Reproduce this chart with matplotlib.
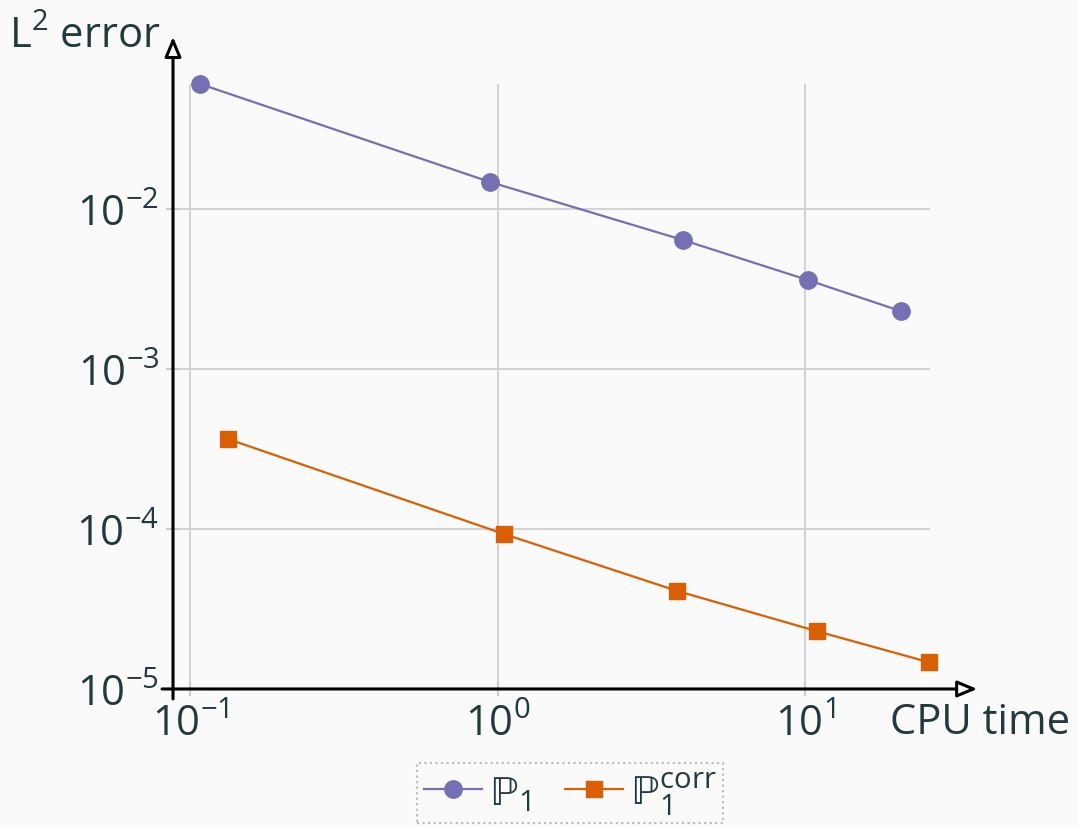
import matplotlib
matplotlib.use("Agg")
import matplotlib.pyplot as plt

# data (log-log convergence plot)
p1_time = [0.108, 0.945, 4.01, 10.2, 20.5]
p1_err = [0.0604, 0.01475, 0.0064, 0.0036, 0.0023]
pc_time = [0.133, 1.05, 3.84, 10.9, 25.3]
pc_err = [3.65e-4, 9.3e-5, 4.1e-5, 2.3e-5, 1.47e-5]
x_ticks = [0.1, 1, 10]
x_labels = ["$10^{-1}$", "$10^{0}$", "$10^{1}$"]
y_ticks = [1e-5, 1e-4, 1e-3, 1e-2]
y_labels = ["$10^{-5}$", "$10^{-4}$", "$10^{-3}$", "$10^{-2}$"]

TXT = "#223a3d"
BG = "#fafafa"
FS = 30

plt.rcParams["font.family"] = ["Open Sans", "DejaVu Sans"]
plt.rcParams["mathtext.fontset"] = "custom"
plt.rcParams["mathtext.rm"] = "Open Sans"
plt.rcParams["mathtext.it"] = "Open Sans"
plt.rcParams["mathtext.bf"] = "Open Sans:bold"
plt.rcParams["mathtext.fallback"] = "stixsans"

fig = plt.figure(figsize=(10.78, 8.28), dpi=100, facecolor=BG)
ax = fig.add_axes([0.1605, 0.1667, 0.7022, 0.7306], facecolor=BG)

ax.plot(p1_time, p1_err, color="#7570b3", marker="o", ms=12.5, lw=1.6,
        label="$ℙ_1$", zorder=3, clip_on=False)
ax.plot(pc_time, pc_err, color="#d95f02", marker="s", ms=12, lw=1.6,
        label="$ℙ_1^{\\mathrm{corr}}$", zorder=3, clip_on=False)

ax.set_xscale("log")
ax.set_yscale("log")
ax.set_xlim(10 ** -1.0553, 10 ** 1.4065)
ax.set_ylim(1e-5, 10 ** -1.219)
ax.set_xticks(x_ticks)
ax.set_xticklabels(x_labels)
ax.set_yticks(y_ticks)
ax.set_yticklabels(y_labels)
ax.minorticks_off()
ax.tick_params(direction="inout", length=10, width=1.5, color="#cccccc",
               labelsize=FS, labelcolor=TXT, pad=5)
ax.grid(True, color="#d4d4d4", lw=1.5)
ax.set_axisbelow(True)
for s in ax.spines.values():
    s.set_visible(False)

# arrowed axes
arrow = dict(arrowstyle="-|>,head_length=1.2,head_width=0.5", lw=2.2,
             fc="white", ec="black", shrinkA=0, shrinkB=0)
ax.annotate("", xy=(0, 1.078), xytext=(0, -0.0165), xycoords="axes fraction",
            textcoords="axes fraction", arrowprops=arrow, annotation_clip=False)
ax.annotate("", xy=(1.0625, 0), xytext=(-0.0145, 0), xycoords="axes fraction",
            textcoords="axes fraction", arrowprops=arrow, annotation_clip=False)

fig.text(0.008, 0.955, "L$^2$ error", fontsize=FS, color=TXT, ha="left", va="center")
fig.text(0.993, 0.127, "CPU time", fontsize=FS, color=TXT, ha="right", va="center")

leg = fig.legend(loc="upper center", bbox_to_anchor=(0.529, 0.077), ncol=2,
                 fontsize=FS, frameon=True, fancybox=False, handlelength=1.4,
                 handletextpad=0.2, columnspacing=0.8, borderpad=0.15,
                 borderaxespad=0, labelcolor=TXT)
leg.get_frame().set_edgecolor("#aaaaaa")
leg.get_frame().set_linestyle(":")
leg.get_frame().set_linewidth(1.5)
leg.get_frame().set_facecolor(BG)

fig.savefig("out.png", dpi=100, facecolor=BG)
